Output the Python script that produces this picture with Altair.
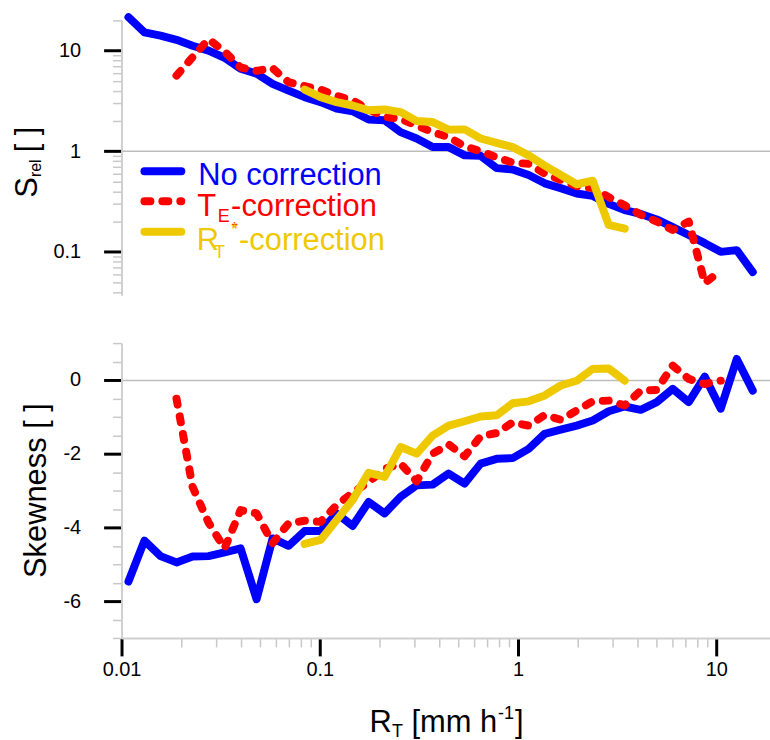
import altair as alt
import pandas as pd

FONT = "Liberation Sans"
BLUE = "#0000FF"
RED = "#FF0000"
GOLD = "#EEC900"
GREY_AX = "#cfcfcf"
GREY_GRID = "#bdbdbd"
GREY_TICK = "#c8c8c8"

# rain-rate bin centres [mm h-1]
RT = [0.01084, 0.01305, 0.01573, 0.01894, 0.02282, 0.02748, 0.03310, 0.03987,
      0.04801, 0.05781, 0.06964, 0.08384, 0.1010, 0.1216, 0.1464, 0.1764,
      0.2124, 0.2558, 0.3082, 0.3710, 0.4469, 0.5382, 0.6480, 0.7804,
      0.9401, 1.132, 1.364, 1.642, 1.978, 2.382, 2.869, 3.454,
      4.161, 5.011, 6.035, 7.269, 8.753, 10.54, 12.70, 15.29]

# No correction (all 40 bins)
BLUE_S = [21.5, 15.2, 14.1, 12.8, 11.2, 10.0, 8.5, 6.6, 5.9, 4.68,
          4.0, 3.45, 3.08, 2.65, 2.5, 2.07, 2.03, 1.55, 1.34, 1.10,
          1.10, 0.91, 0.90, 0.68, 0.66, 0.58, 0.48, 0.43, 0.38, 0.36,
          0.30, 0.26, 0.238, 0.21, 0.176, 0.147, 0.122, 0.10, 0.104, 0.063]
BLUE_K = [-5.47, -4.36, -4.78, -4.95, -4.79, -4.78, -4.68, -4.57, -5.95, -4.30,
          -4.5, -4.10, -4.10, -3.62, -3.96, -3.31, -3.62, -3.17, -2.86, -2.84,
          -2.54, -2.81, -2.27, -2.14, -2.12, -1.87, -1.46, -1.35, -1.24, -1.10,
          -0.85, -0.72, -0.81, -0.6, -0.24, -0.6, 0.09, -0.78, 0.57, -0.29]

# TE*-correction (bins 4..38)
RED_FIRST, RED_LAST = 3, 37
RED_S = [5.65, 8.6, 13.0, 9.8, 6.8, 6.3, 6.7, 4.85, 4.45, 4.1,
         3.55, 3.2, 2.6, 2.2, 2.1, 1.8, 1.55, 1.38, 1.12, 1.0,
         0.87, 0.77, 0.75, 0.60, 0.52, 0.45, 0.43, 0.35, 0.29, 0.234,
         0.20, 0.165, 0.20, 0.049, 0.065]
RED_K = [-0.51, -2.9, -3.87, -4.57, -3.53, -3.62, -4.43, -3.89, -3.82, -3.85,
         -3.40, -3.06, -2.77, -2.41, -2.27, -2.75, -2.0, -1.75, -2.07, -1.53,
         -1.44, -1.15, -1.24, -0.95, -1.08, -0.83, -0.58, -0.56, -0.69, -0.29,
         -0.27, 0.39, 0.03, -0.11, -0.02]

# RT*-correction (bins 12..32)
GOLD_FIRST, GOLD_LAST = 11, 31
GOLD_S = [4.1, 3.45, 3.08, 2.85, 2.55, 2.6, 2.45, 2.0, 1.95, 1.64,
          1.65, 1.34, 1.21, 1.10, 0.91, 0.72, 0.58, 0.47, 0.51, 0.185, 0.17]
GOLD_K = [-4.45, -4.34, -3.80, -3.26, -2.52, -2.63, -1.82, -2.0, -1.51, -1.24,
          -1.12, -0.99, -0.96, -0.63, -0.58, -0.42, -0.15, -0.02, 0.30, 0.31, -0.02]

X_TICKS = [0.01, 0.02, 0.03, 0.04, 0.05, 0.06, 0.07, 0.08, 0.09,
           0.1, 0.2, 0.3, 0.4, 0.5, 0.6, 0.7, 0.8, 0.9,
           1, 2, 3, 4, 5, 6, 7, 8, 9, 10]
X_MAJOR = [0.01, 0.1, 1, 10]
S_TICKS = [0.04, 0.05, 0.06, 0.07, 0.08, 0.09,
           0.1, 0.2, 0.3, 0.4, 0.5, 0.6, 0.7, 0.8, 0.9,
           1, 2, 3, 4, 5, 6, 7, 8, 9, 10, 20]
S_MAJOR = [0.1, 1, 10]
K_TICKS = [-7, -6.5, -6, -5.5, -5, -4.5, -4, -3.5, -3, -2.5, -2,
           -1.5, -1, -0.5, 0, 0.5, 1]
K_MAJOR = [-6, -4, -2, 0]

LEGEND = ["No correction", "-correction", "-correction"]

W = 651
H_TOP = 276
H_BOT = 296
TF = 31  # title / legend font size


def df_series(name, first, last, s, k):
    return pd.DataFrame({"rt": RT[first:last + 1], "s": s, "k": k, "series": name})


d_blue = df_series("No correction", 0, 39, BLUE_S, BLUE_K)
d_red = df_series("TE*-correction", RED_FIRST, RED_LAST, RED_S, RED_K)
d_gold = df_series("RT*-correction", GOLD_FIRST, GOLD_LAST, GOLD_S, GOLD_K)


def major_test(vals):
    return " || ".join(f"datum.value == {v}" for v in vals)


def make_axis(ticks, majors, pad, grid_at=None, flush=None):
    t = major_test(majors)
    kw = dict(
        values=ticks,
        title=None,
        labelExpr=f"({t}) ? '' + datum.value : ''",
        labelFont=FONT, labelFontSize=20, labelColor="black",
        labelPadding=pad, labelOverlap=False,
        tickColor={"condition": {"test": t, "value": "black"}, "value": GREY_TICK},
        tickWidth={"condition": {"test": t, "value": 3}, "value": 1.5},
        tickSize={"condition": {"test": t, "value": 18}, "value": 9},
        domainColor=GREY_AX, domainWidth=2,
    )
    if grid_at is not None:
        kw.update(grid=True, gridColor=GREY_GRID, gridWidth=1.5,
                  gridOpacity={"condition": {"test": f"datum.value == {grid_at}", "value": 1},
                               "value": 0})
    else:
        kw.update(grid=False)
    if flush is not None:
        kw.update(labelFlush=flush)
    return alt.Axis(**kw)


x_scale = alt.Scale(type="log", domain=[0.01, 18.68], nice=False)
s_scale = alt.Scale(type="log", domain=[0.037, 20], nice=False)
k_scale = alt.Scale(domain=[-7, 1], nice=False, zero=False)

s_axis = make_axis(S_TICKS, S_MAJOR, 23, grid_at=1)
k_axis = make_axis(K_TICKS, K_MAJOR, 23, grid_at=0)
x_axis = make_axis(X_TICKS, X_MAJOR, 4, flush=False)


def line(df, color, ycol, yscale, yaxis, xaxis, dash=None):
    kw = dict(color=color, strokeWidth=8, strokeCap="round", strokeJoin="round")
    if dash:
        kw["strokeDash"] = dash
    return alt.Chart(df).mark_line(**kw).encode(
        x=alt.X("rt:Q", scale=x_scale, axis=xaxis),
        y=alt.Y(f"{ycol}:Q", scale=yscale, axis=yaxis),
    )


def txt(s, x, y, size, color="black", angle=0, align="left"):
    return alt.Chart(pd.DataFrame({"t": [s]})).mark_text(
        align=align, baseline="alphabetic", font=FONT, fontSize=size,
        color=color, angle=angle,
    ).encode(x=alt.value(x), y=alt.value(y), text="t:N")


def legend_rule(color, y, dash=None):
    kw = dict(color=color, strokeWidth=8, strokeCap="round")
    if dash:
        kw["strokeDash"] = dash
    return alt.Chart(pd.DataFrame({"a": [0]})).mark_rule(**kw).encode(
        x=alt.value(23), x2=alt.value(60), y=alt.value(y))


DASH = [6, 12]

top = alt.layer(
    line(d_blue, BLUE, "s", s_scale, s_axis, None),
    line(d_red, RED, "s", s_scale, s_axis, None, DASH),
    line(d_gold, GOLD, "s", s_scale, s_axis, None),
    legend_rule(BLUE, 151.5),
    legend_rule(RED, 181.5, DASH),
    legend_rule(GOLD, 212.2),
    txt(LEGEND[0], 77, 165.5, TF, BLUE),
    txt("T", 76, 196.2, TF, RED),
    txt("E", 96.5, 202.5, 18, RED),
    txt("*", 110.5, 214, 16, RED),
    txt(LEGEND[1], 110, 196.2, TF, RED),
    txt("R", 75.5, 230.5, TF, GOLD),
    txt("T", 92.8, 238.5, 18, GOLD),
    txt("*", 110.5, 215, 16, GOLD),
    txt(LEGEND[2], 118, 230.5, TF, GOLD),
    txt("S", -85, 178, TF, angle=270),
    txt("rel", -81, 157.3, 16, angle=270),
    txt("[ ]", -85, 132.5, TF, angle=270),
).properties(width=W, height=H_TOP)

bottom = alt.layer(
    line(d_blue, BLUE, "k", k_scale, k_axis, x_axis),
    line(d_red, RED, "k", k_scale, k_axis, x_axis, DASH),
    line(d_gold, GOLD, "k", k_scale, k_axis, x_axis),
    txt("Skewness [ ]", -75.5, 148, TF, angle=270, align="center"),
    txt("R", 249, 390, TF),
    txt("T", 271.5, 395, 18),
    txt("[mm h", 291, 390, TF),
    txt("-1", 378, 377, 18),
    txt("]", 395, 390, TF),
).properties(width=W, height=H_BOT)

chart = alt.vconcat(top, bottom, spacing=31).properties(
    padding={"left": 12, "top": 9, "right": 0, "bottom": 0},
    background="white",
).configure_view(stroke=None)

chart.save("out.html", embed_options={"renderer": "svg", "actions": False})
